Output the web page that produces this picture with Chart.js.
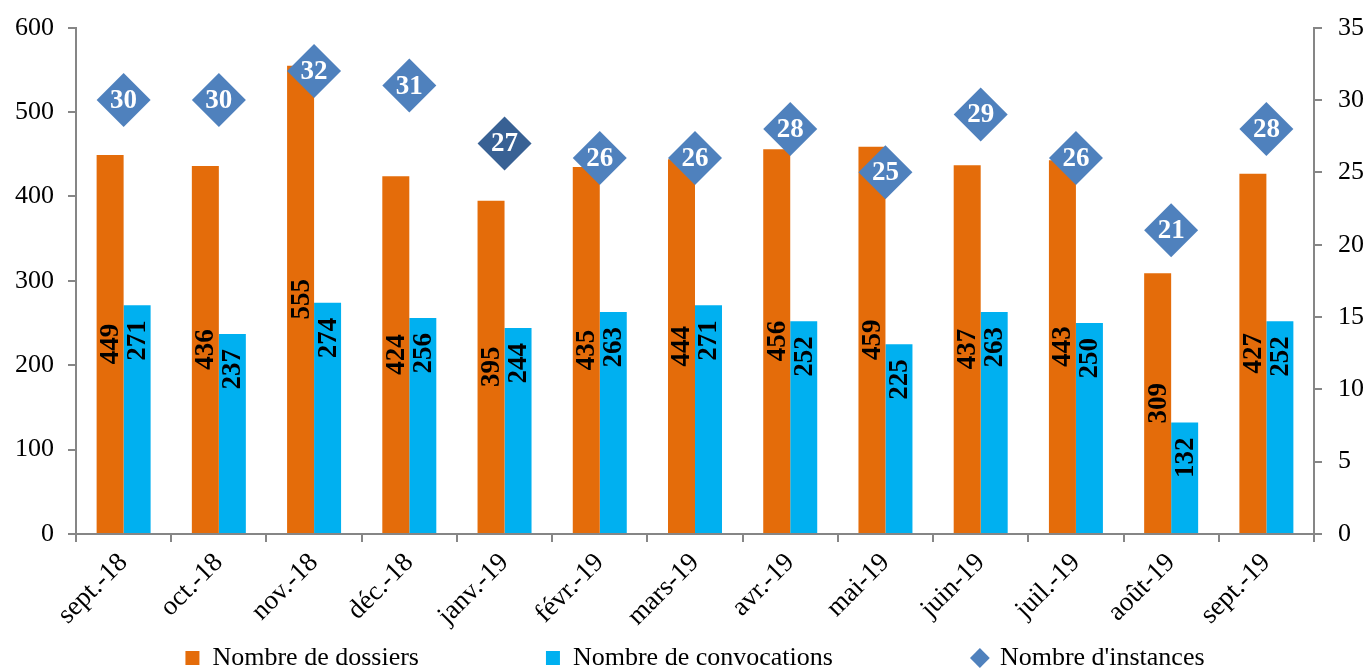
<!DOCTYPE html>
<html>
<head>
<meta charset="utf-8">
<script src="https://cdn.jsdelivr.net/npm/chart.js@4.4.1/dist/chart.umd.min.js"></script>
<style>
  html, body { margin: 0; padding: 0; background: #fff; }
  #chartContainer { width: 1367px; height: 670px; }
</style>
</head>
<body>
<div id="chartContainer"><canvas id="myChart" width="1367" height="670"></canvas></div>
<script>
const months = ['sept.-18', 'oct.-18', 'nov.-18', 'déc.-18', 'janv.-19', 'févr.-19', 'mars-19', 'avr.-19', 'mai-19', 'juin-19', 'juil.-19', 'août-19', 'sept.-19'];
const dossiers = [449, 436, 555, 424, 395, 435, 444, 456, 459, 437, 443, 309, 427];
const convocations = [271, 237, 274, 256, 244, 263, 271, 252, 225, 263, 250, 132, 252];
const instances = [30, 30, 32, 31, 27, 26, 26, 28, 25, 29, 26, 21, 28];
const seriesNames = ['Nombre de dossiers', 'Nombre de convocations', "Nombre d'instances"];
const leftTicks = [0, 600, 100];
const rightTicks = [0, 35, 5];

const serif = '"Liberation Serif", "Times New Roman", serif';
const axisGray = '#868686';
const ctx = document.getElementById('myChart');

// labels drawn on the bars and in the diamonds
const valueLabels = {
  id: 'valueLabels',
  afterDatasetsDraw(chart) {
    const c = chart.ctx;
    c.save();
    c.font = 'bold 27px ' + serif;
    c.textBaseline = 'middle';
    chart.data.datasets.forEach((ds, di) => {
      const meta = chart.getDatasetMeta(di);
      meta.data.forEach((el, i) => {
        const v = ds.data[i];
        if (ds.type === 'line') {
          c.fillStyle = '#fff';
          c.textAlign = 'center';
          c.fillText(v, el.x, el.y + 1);
        } else {
          c.save();
          c.translate(el.x + 1, di === 0 ? (el.y + el.base) / 2 : el.y + 15);
          c.rotate(-Math.PI / 2);
          c.textAlign = di === 0 ? 'center' : 'right';
          c.fillStyle = '#000';
          c.fillText(v, 0, 0);
          c.restore();
        }
      });
    });
    c.restore();
  }
};

// extra room after the first two legend entries
const gaps = [' '.repeat(18), ' '.repeat(20), ''];

new Chart(ctx, {
  data: {
    labels: months,
    datasets: [{
      type: 'bar',
      label: seriesNames[0],
      data: dossiers,
      backgroundColor: '#E46C0A',
      yAxisID: 'y',
      order: 1,
      barPercentage: 1,
      categoryPercentage: 0.567
    }, {
      type: 'bar',
      label: seriesNames[1],
      data: convocations,
      backgroundColor: '#00B0F0',
      yAxisID: 'y',
      order: 1,
      barPercentage: 1,
      categoryPercentage: 0.567
    }, {
      type: 'line',
      label: seriesNames[2],
      data: instances,
      yAxisID: 'y1',
      order: 0,
      showLine: false,
      pointStyle: 'rectRot',
      pointRadius: 27,
      pointHoverRadius: 27,
      pointBorderWidth: 0,
      backgroundColor: '#4F81BD',
      pointBackgroundColor: instances.map((v, i) => i === 4 ? '#386194' : '#4F81BD')
    }]
  },
  options: {
    responsive: false,
    animation: false,
    layout: { padding: { top: 24, left: 0, right: 0, bottom: 0 } },
    plugins: {
      tooltip: { enabled: false },
      legend: {
        position: 'bottom',
        fullSize: false,
        maxHeight: 35,
        labels: {
          usePointStyle: true,
          boxWidth: 14,
          boxHeight: 14,
          padding: 10,
          color: '#000',
          font: { family: serif, size: 26 },
          sort: (a, b) => a.datasetIndex - b.datasetIndex,
          generateLabels(chart) {
            const items = Chart.defaults.plugins.legend.labels.generateLabels(chart);
            items.forEach(it => {
              const di = it.datasetIndex;
              it.pointStyle = di === 2 ? 'rectRot' : 'rect';
              it.fillStyle = chart.data.datasets[di].backgroundColor;
              it.lineWidth = 0;
              it.strokeStyle = 'rgba(0,0,0,0)';
              it.text = seriesNames[di] + gaps[di];
            });
            return items;
          }
        }
      }
    },
    scales: {
      x: {
        grid: { drawOnChartArea: false, tickLength: 8, color: axisGray, lineWidth: 2, offset: true },
        border: { color: axisGray, width: 2 },
        ticks: {
          color: '#000',
          font: { family: serif, size: 27 },
          minRotation: 45,
          maxRotation: 45,
          padding: 5
        },
        afterFit(scale) { scale.height = 101; }
      },
      y: {
        position: 'left',
        min: leftTicks[0],
        max: leftTicks[1],
        grid: { drawOnChartArea: false, tickLength: 8, color: axisGray, lineWidth: 2 },
        border: { color: axisGray, width: 2 },
        ticks: { stepSize: leftTicks[2], color: '#000', padding: 14, font: { family: serif, size: 26, lineHeight: 0.9 } },
        afterFit(scale) { scale.width = 76; }
      },
      y1: {
        position: 'right',
        min: rightTicks[0],
        max: rightTicks[1],
        grid: { drawOnChartArea: false, tickLength: 8, color: axisGray, lineWidth: 2 },
        border: { color: axisGray, width: 2 },
        ticks: { stepSize: rightTicks[2], color: '#000', padding: 16, font: { family: serif, size: 26, lineHeight: 0.9 } },
        afterFit(scale) { scale.width = 53; }
      }
    }
  },
  plugins: [valueLabels]
});
</script>
</body>
</html>
